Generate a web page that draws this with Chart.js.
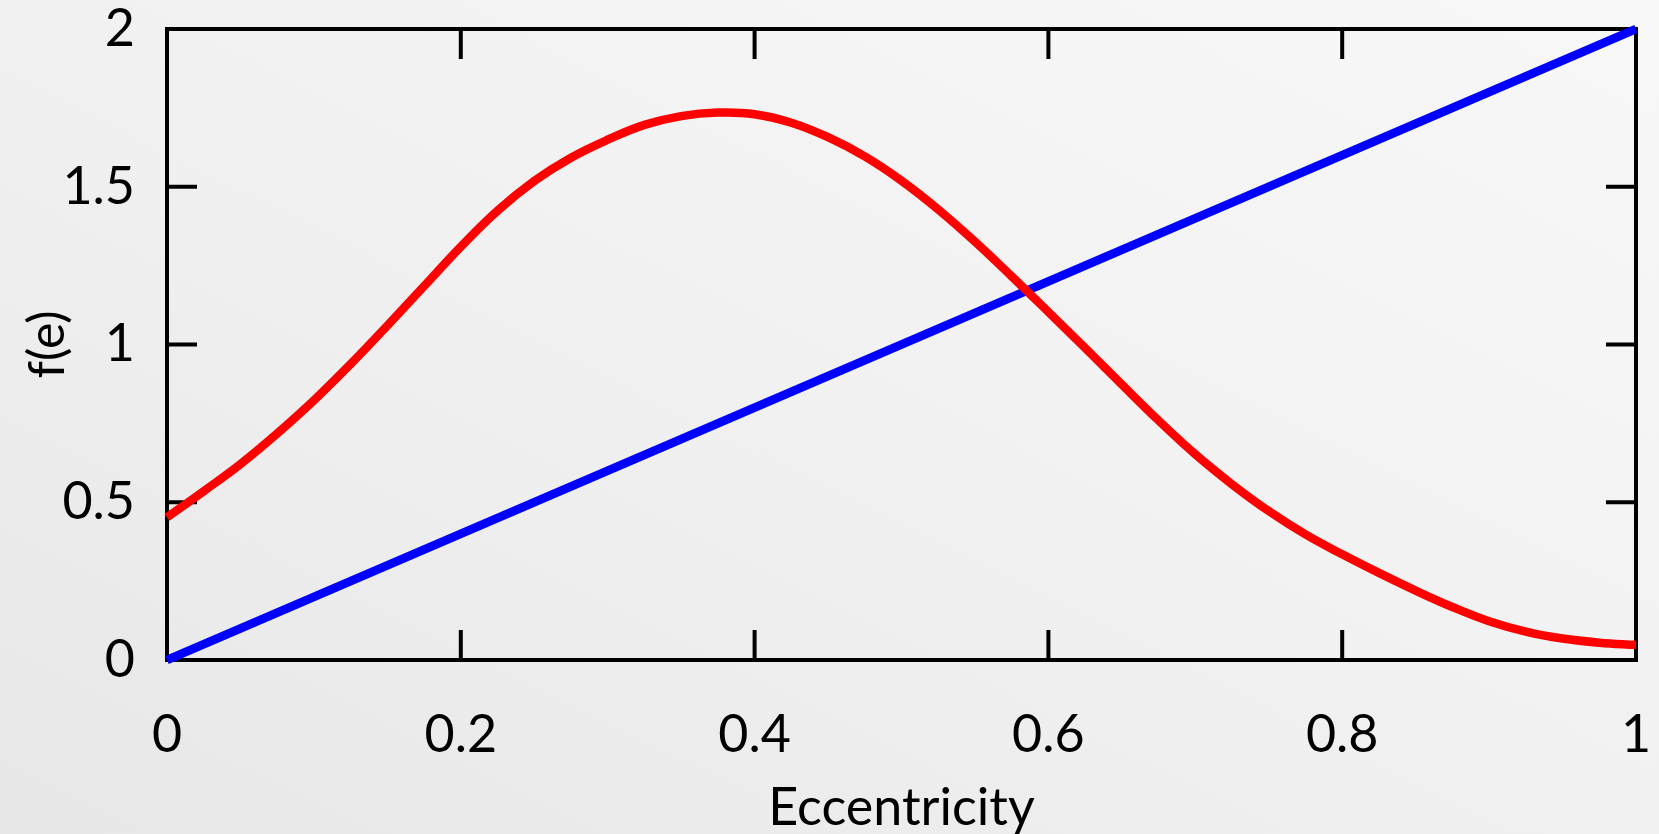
<!DOCTYPE html>
<html>
<head>
<meta charset="utf-8">
<script src="https://cdn.jsdelivr.net/npm/chart.js@4.4.1/dist/chart.umd.min.js"></script>
<style>
  html, body { margin: 0; padding: 0; }
  body {
    width: 1659px; height: 834px; overflow: hidden;
    background: linear-gradient(to top right, #e7e7e7 0%, #f1f1f1 50%, #f8f8f8 100%);
  }
  canvas { display: block; }
</style>
</head>
<body>
<canvas id="chart" width="1659" height="834"></canvas>
<script>
// Eccentricity grid and the distribution f(e) sampled on it
const eccentricity = [
  0, 0.025, 0.05, 0.075, 0.1, 0.125, 0.15, 0.175, 0.2, 0.225,
  0.25, 0.275, 0.3, 0.325, 0.35, 0.375, 0.4, 0.425, 0.45, 0.475,
  0.5, 0.525, 0.55, 0.575, 0.6, 0.625, 0.65, 0.675, 0.7, 0.725,
  0.75, 0.775, 0.8, 0.825, 0.85, 0.875, 0.9, 0.925, 0.95, 0.975, 1
];
const distribution = [
  0.452, 0.535, 0.621, 0.718, 0.823, 0.938, 1.06, 1.185, 1.31, 1.424,
  1.518, 1.592, 1.649, 1.696, 1.724, 1.735, 1.73, 1.703, 1.657, 1.596,
  1.519, 1.428, 1.326, 1.216, 1.103, 0.989, 0.873, 0.759, 0.652, 0.557,
  0.472, 0.398, 0.335, 0.276, 0.22, 0.168, 0.123, 0.09, 0.068, 0.055, 0.048
];

// Linear reference f(e) = 2e, given by its two end points
const linearE = [0, 1];
const linearF = [0, 2];

// Axis ticks and their labels
const xTicks = [0, 0.2, 0.4, 0.6, 0.8, 1];
const xTickLabels = ['0', '0.2', '0.4', '0.6', '0.8', '1'];
const yTicks = [0, 0.5, 1, 1.5, 2];
const yTickLabels = ['0', '0.5', '1', '1.5', '2'];

const FONT = 'Lato, "Noto Sans", "DejaVu Sans", sans-serif';
const TICK_LEN = 30;

// Closed black frame with inward tick marks on all four sides
const framePlugin = {
  id: 'frame',
  beforeDatasetsDraw(chart) {
    const { ctx, chartArea: { left, right, top, bottom }, scales: { x, y } } = chart;
    ctx.save();
    ctx.strokeStyle = '#000';
    ctx.lineWidth = 4;
    ctx.beginPath();
    xTicks.forEach(v => {
      const px = x.getPixelForValue(v);
      ctx.moveTo(px, bottom); ctx.lineTo(px, bottom - TICK_LEN);
      ctx.moveTo(px, top); ctx.lineTo(px, top + TICK_LEN);
    });
    yTicks.forEach(v => {
      const py = y.getPixelForValue(v);
      ctx.moveTo(left, py); ctx.lineTo(left + TICK_LEN, py);
      ctx.moveTo(right, py); ctx.lineTo(right - TICK_LEN, py);
    });
    ctx.stroke();
    ctx.lineJoin = 'miter';
    ctx.strokeRect(left, top, right - left, bottom - top);
    ctx.restore();
  }
};

new Chart(document.getElementById('chart'), {
  type: 'line',
  data: {
    datasets: [
      {
        label: 'f(e)',
        data: eccentricity.map((e, i) => ({ x: e, y: distribution[i] })),
        borderColor: '#ff0000',
        borderWidth: 8.5,
        pointRadius: 0,
        tension: 0.4,
        clip: false
      },
      {
        label: '2e',
        data: linearE.map((e, i) => ({ x: e, y: linearF[i] })),
        borderColor: '#0000ff',
        borderWidth: 8.5,
        pointRadius: 0,
        clip: false
      }
    ]
  },
  options: {
    responsive: false,
    animation: false,
    events: [],
    layout: { padding: { left: 0, top: 29, right: 23, bottom: 0 } },
    plugins: { legend: { display: false }, tooltip: { enabled: false } },
    scales: {
      x: {
        type: 'linear', min: 0, max: 1,
        grid: { display: false, drawTicks: false },
        border: { display: false },
        afterFit: s => { s.height = 174; s.paddingLeft = 0; s.paddingRight = 0; },
        afterBuildTicks: s => { s.ticks = xTicks.map(v => ({ value: v })); },
        ticks: {
          padding: 44, color: '#000', maxRotation: 0, autoSkip: false,
          font: { family: FONT, size: 52 },
          callback: (v, i) => xTickLabels[i]
        },
        title: {
          display: true, text: 'Eccentricity', color: '#000',
          font: { family: FONT, size: 52, lineHeight: 1 },
          padding: { top: 0, bottom: 0 }
        }
      },
      y: {
        type: 'linear', min: 0, max: 2,
        grid: { display: false, drawTicks: false },
        border: { display: false },
        afterFit: s => { s.width = 167; s.paddingTop = 0; s.paddingBottom = 0; },
        afterBuildTicks: s => { s.ticks = yTicks.map(v => ({ value: v })); },
        ticks: {
          padding: 32, color: '#000', autoSkip: false,
          font: { family: FONT, size: 52 },
          callback: (v, i) => yTickLabels[i]
        },
        title: {
          display: true, text: 'f(e)', color: '#000',
          font: { family: FONT, size: 50, lineHeight: 1 },
          padding: { top: 23, bottom: 0 }
        }
      }
    }
  },
  plugins: [framePlugin]
});
</script>
</body>
</html>
